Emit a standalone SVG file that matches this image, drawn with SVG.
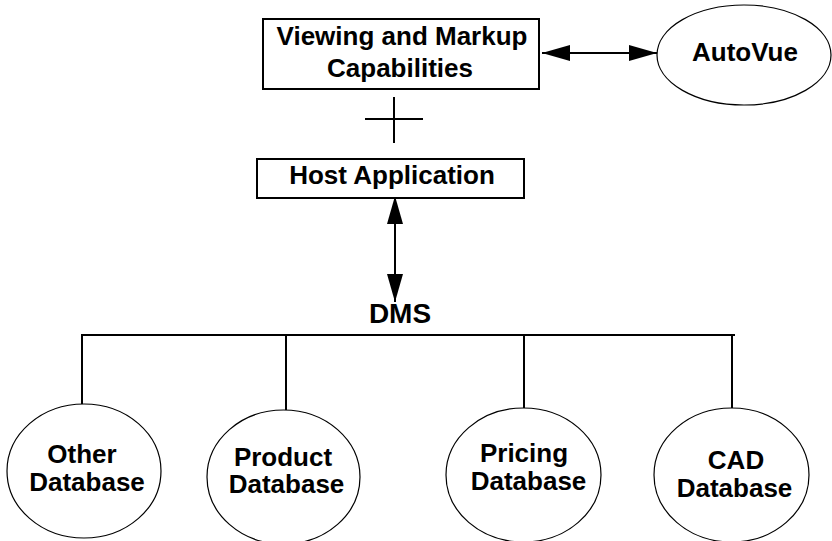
<svg xmlns="http://www.w3.org/2000/svg" width="832" height="541" viewBox="0 0 832 541">
<style>
.t{font-family:"Liberation Sans",Arial,sans-serif;font-weight:bold;font-size:26px;fill:#000;text-anchor:middle}
.box{fill:#fff;stroke:#000;stroke-width:2}
.ell{fill:#fff;stroke:#000;stroke-width:1.2}
.ln{fill:none;stroke:#000;stroke-width:2}
</style>
<defs>
<marker id="ah" viewBox="0 0 28 16" refX="28" refY="8" markerWidth="28" markerHeight="16" markerUnits="userSpaceOnUse" orient="auto-start-reverse">
<path d="M0,0 L28,8 L0,16 Z" fill="#000"/>
</marker>
</defs>
<rect width="832" height="541" fill="#fff"/>
<g id="connectors">
<line class="ln" x1="542" y1="53" x2="657" y2="53" marker-start="url(#ah)" marker-end="url(#ah)"/>
<line class="ln" x1="394" y1="97" x2="394" y2="143"/>
<line class="ln" x1="365" y1="119" x2="423" y2="119"/>
<line class="ln" x1="395" y1="196" x2="395" y2="302" marker-start="url(#ah)" marker-end="url(#ah)"/>
<line class="ln" x1="81" y1="335" x2="735" y2="335"/>
<line class="ln" x1="82" y1="335" x2="82" y2="404"/>
<line class="ln" x1="286" y1="335" x2="286" y2="410"/>
<line class="ln" x1="524" y1="335" x2="524" y2="408"/>
<line class="ln" x1="732" y1="335" x2="732" y2="408"/>
</g>
<g id="viewing">
<rect class="box" x="263" y="19" width="276" height="70"/>
<text class="t" x="402" y="45">Viewing and Markup</text>
<text class="t" x="400" y="77">Capabilities</text>
</g>
<g id="autovue">
<ellipse class="ell" cx="744" cy="55" rx="87" ry="50"/>
<text class="t" x="745" y="61">AutoVue</text>
</g>
<g id="host">
<rect class="box" x="257" y="159" width="267" height="39"/>
<text class="t" x="392" y="184">Host Application</text>
</g>
<g id="dms">
<text class="t" x="400" y="323" style="font-size:28px">DMS</text>
</g>
<g id="other">
<ellipse class="ell" cx="84" cy="471" rx="77" ry="67"/>
<text class="t" x="82" y="463">Other</text>
<text class="t" x="87" y="491">Database</text>
</g>
<g id="product">
<ellipse class="ell" cx="283.5" cy="477" rx="76.5" ry="67"/>
<text class="t" x="283" y="466">Product</text>
<text class="t" x="286.5" y="493">Database</text>
</g>
<g id="pricing">
<ellipse class="ell" cx="523.5" cy="475" rx="77.5" ry="67"/>
<text class="t" x="524" y="462">Pricing</text>
<text class="t" x="528.5" y="490">Database</text>
</g>
<g id="cad">
<ellipse class="ell" cx="731.5" cy="475" rx="77.5" ry="67"/>
<text class="t" x="736" y="469">CAD</text>
<text class="t" x="734.5" y="497">Database</text>
</g>
</svg>
